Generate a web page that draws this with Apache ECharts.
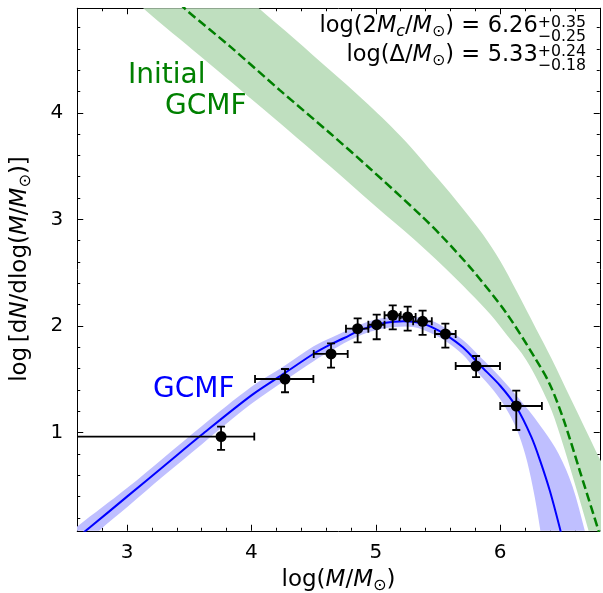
<!DOCTYPE html>
<html><head><meta charset="utf-8">
<script src="https://cdn.jsdelivr.net/npm/echarts@6/dist/echarts.min.js"></script>
<style>html,body{margin:0;padding:0;background:#fff}#c{width:603px;height:593px}</style>
</head><body><div id="c"></div>
<script>
// ---------------- data ----------------
const xMajorTicks = [3, 4, 5, 6];
const xMinorTicks = [2.8, 3.2, 3.4, 3.6, 3.8, 4.2, 4.4, 4.6, 4.8, 5.2, 5.4, 5.6, 5.8, 6.2, 6.4, 6.6];
const yMajorTicks = [1, 2, 3, 4];
const yMinorTicks = [0.2, 0.4, 0.6, 0.8, 1.2, 1.4, 1.6, 1.8, 2.2, 2.4, 2.6, 2.8, 3.2, 3.4, 3.6, 3.8, 4.2, 4.4, 4.6, 4.8];

// binned GCMF data points with error bars
const pointX   = [3.756, 4.270, 4.640, 4.854, 5.007, 5.136, 5.256, 5.376, 5.559, 5.806, 6.129];
const pointY   = [0.963, 1.503, 1.738, 1.975, 2.012, 2.101, 2.085, 2.044, 1.925, 1.625, 1.250];
const pointXLo = [2.000, 4.029, 4.501, 4.760, 4.940, 5.070, 5.190, 5.300, 5.475, 5.642, 6.000];
const pointXHi = [4.023, 4.498, 4.774, 4.940, 5.070, 5.200, 5.320, 5.450, 5.642, 5.998, 6.335];
const pointYLo = [0.838, 1.379, 1.609, 1.847, 1.876, 1.969, 1.956, 1.916, 1.797, 1.520, 1.025];
const pointYHi = [1.056, 1.597, 1.838, 2.072, 2.106, 2.194, 2.181, 2.144, 2.022, 1.719, 1.394];

// best-fit (evolved) GCMF
const gcmfX = [2.55, 2.7, 3.0, 3.3, 3.6, 4.0, 4.27, 4.5, 4.64, 4.75, 4.85, 4.93, 5.0, 5.08, 5.15, 5.22, 5.3, 5.38, 5.45, 5.56, 5.7, 5.84, 6.0, 6.13, 6.25, 6.32, 6.4, 6.48, 6.52];
const gcmfY = [-0.03, 0.11, 0.40, 0.69, 0.98, 1.35, 1.56, 1.74, 1.83, 1.89, 1.95, 1.985, 2.01, 2.03, 2.04, 2.045, 2.04, 2.02, 1.99, 1.92, 1.80, 1.63, 1.44, 1.24, 0.96, 0.74, 0.45, 0.10, -0.1];
const gcmfUpperX = [2.45, 2.6, 3.0, 3.3, 3.6, 4.0, 4.27, 4.5, 4.64, 4.85, 5.0, 5.15, 5.3, 5.45, 5.56, 5.7, 5.84, 6.0, 6.2, 6.35, 6.47, 6.58, 6.68, 6.73];
const gcmfUpperY = [-0.02, 0.12, 0.48, 0.77, 1.06, 1.43, 1.63, 1.81, 1.89, 2.00, 2.06, 2.09, 2.09, 2.05, 1.98, 1.87, 1.71, 1.52, 1.25, 1.02, 0.80, 0.50, 0.08, -0.15];
const gcmfLowerX = [2.65, 2.75, 3.0, 3.3, 3.6, 4.0, 4.27, 4.5, 4.64, 4.85, 5.0, 5.15, 5.3, 5.45, 5.56, 5.7, 5.8, 5.95, 6.05, 6.13, 6.2, 6.26, 6.32, 6.345];
const gcmfLowerY = [-0.1, 0.05, 0.30, 0.60, 0.89, 1.27, 1.49, 1.67, 1.77, 1.90, 1.96, 1.99, 1.99, 1.93, 1.86, 1.73, 1.59, 1.39, 1.22, 1.04, 0.80, 0.50, 0.10, -0.15];

// initial GCMF
const initX = [3.42, 3.49, 3.83, 4.23, 4.63, 4.95, 5.36, 5.54, 5.78, 6.05, 6.29, 6.4, 6.51, 6.64, 6.79, 6.82];
const initY = [5.03, 4.95, 4.62, 4.21, 3.81, 3.48, 3.04, 2.83, 2.52, 2.12, 1.68, 1.45, 1.12, 0.64, 0.08, -0.05];
const initUpperX = [3.9, 4.06, 4.35, 4.63, 4.9, 5.2, 5.5, 5.7, 5.86, 6.0, 6.13, 6.29, 6.41, 6.57, 6.78, 6.9, 6.97];
const initUpperY = [5.15, 4.98, 4.69, 4.40, 4.12, 3.78, 3.38, 3.10, 2.86, 2.61, 2.33, 1.97, 1.70, 1.31, 0.80, 0.50, -0.25];
const initLowerX = [2.98, 3.13, 3.6, 4.1, 4.63, 5.0, 5.3, 5.55, 5.75, 5.92, 6.05, 6.21, 6.387, 6.48, 6.6, 6.71, 6.76];
const initLowerY = [5.15, 4.98, 4.52, 4.03, 3.50, 3.12, 2.82, 2.55, 2.32, 2.11, 1.92, 1.68, 1.28, 0.98, 0.52, 0.08, -0.15];

const X_MIN = 2.6, X_MAX = 6.8, Y_MIN = 0.08, Y_MAX = 4.98;

// ---------------- helpers ----------------
const FONT = 'DejaVu Sans';
const zip = (a, b) => a.map((v, i) => [v, b[i]]);
const mctx = document.createElement('canvas').getContext('2d');
function fontStr(size, italic) { return (italic ? 'italic ' : '') + size + 'px "' + FONT + '"'; }
function measure(t, size, italic) { mctx.font = fontStr(size, italic); return mctx.measureText(t).width; }
// lays out a sequence of text pieces along a baseline
function mathText(pieces, o) {
  const size = o.size, K = 0.35;
  let cx = 0; const kids = [];
  const mk = (t, x, sz, it, dy) => ({type: 'text', x: x, y: dy * size - K * sz,
    style: {text: t, font: fontStr(sz, it), fill: o.color, align: 'left', verticalAlign: 'middle', textAlign: 'left', textVerticalAlign: 'middle'}});
  pieces.forEach(p => {
    if (p.sup !== undefined) {
      const sz = size * 0.7;
      kids.push(mk(p.sup, cx, sz, false, p.dyUp));
      kids.push(mk(p.sub, cx, sz, false, p.dyDn));
      cx += Math.max(measure(p.sup, sz, false), measure(p.sub, sz, false));
    } else {
      const sz = size * (p.s || 1);
      cx += (p.pre || 0) * size;
      kids.push(mk(p.t, cx, sz, !!p.i, p.dy || 0));
      cx += measure(p.t, sz, !!p.i) + (p.post || 0) * size;
    }
  });
  const shift = o.align === 'right' ? -cx : (o.align === 'center' ? -cx / 2 : 0);
  kids.forEach(k => k.x += shift);
  return {type: 'group', x: o.x, y: o.y, rotation: o.rotation || 0, silent: true, z: 100, children: kids};
}
function band(upX, upY, loX, loY, color) {
  return {type: 'custom', clip: true, silent: true, z: 1, data: [[X_MIN, Y_MIN]],
    renderItem: (params, api) => {
      const up = zip(upX, upY).map(p => api.coord(p));
      const lo = zip(loX, loY).map(p => api.coord(p)).reverse();
      return {type: 'group', children: [
        {type: 'polygon', shape: {points: up.concat(lo), smooth: 0.35}, style: {fill: color}}
      ]};
    }};
}
function xAx(pos, vals, len, labels, lineShow) {
  return {type: 'value', min: X_MIN, max: X_MAX, position: pos, gridIndex: 0,
    axisLine: {show: lineShow, onZero: false, lineStyle: {color: '#000', width: 1}},
    axisTick: {show: true, inside: true, length: len, customValues: vals, lineStyle: {color: '#000', width: 1}},
    axisLabel: {show: labels, customValues: vals, fontFamily: FONT, fontSize: 20, color: '#000', margin: 12},
    splitLine: {show: false}, minorTick: {show: false}, axisPointer: {show: false}};
}
function yAx(pos, vals, len, labels, lineShow) {
  return {type: 'value', min: Y_MIN, max: Y_MAX, position: pos, gridIndex: 0,
    axisLine: {show: lineShow, onZero: false, lineStyle: {color: '#000', width: 1}},
    axisTick: {show: true, inside: true, length: len, customValues: vals, lineStyle: {color: '#000', width: 1}},
    axisLabel: {show: labels, customValues: vals, fontFamily: FONT, fontSize: 20, color: '#000', margin: 14},
    splitLine: {show: false}, minorTick: {show: false}, axisPointer: {show: false}};
}

const errData = pointX.map((x, i) => [x, pointY[i], pointXLo[i], pointXHi[i], pointYLo[i], pointYHi[i]]);

const chart = echarts.init(document.getElementById('c'), null, {renderer: 'canvas'});
const option = {
  animation: false,
  backgroundColor: '#fff',
  grid: {left: 77.25, top: 8.25, width: 522.5, height: 522.5, containLabel: false, outerBoundsMode: 'none'},
  xAxis: [
    xAx('bottom', xMajorTicks, 6, true, true),
    xAx('bottom', xMinorTicks, 3, false, false),
    xAx('top', xMajorTicks, 6, false, true),
    xAx('top', xMinorTicks, 3, false, false)
  ],
  yAxis: [
    yAx('left', yMajorTicks, 6, true, true),
    yAx('left', yMinorTicks, 3, false, false),
    yAx('right', yMajorTicks, 6, false, true),
    yAx('right', yMinorTicks, 3, false, false)
  ],
  series: [
    band(initUpperX, initUpperY, initLowerX, initLowerY, '#bfdfbf'),
    band(gcmfUpperX, gcmfUpperY, gcmfLowerX, gcmfLowerY, '#bfbfff'),
    {type: 'line', data: zip(initX, initY), smooth: 0.3, showSymbol: false, silent: true, z: 2, clip: true,
      lineStyle: {color: '#008000', width: 2.5, type: [9, 4]}},
    {type: 'line', data: zip(gcmfX, gcmfY), smooth: 0.3, showSymbol: false, silent: true, z: 2, clip: true,
      lineStyle: {color: '#0000ff', width: 2}},
    {type: 'custom', clip: true, silent: true, z: 3, data: errData,
      renderItem: (params, api) => {
        const c = api.coord([api.value(0), api.value(1)]);
        const xl = api.coord([api.value(2), api.value(1)]);
        const xh = api.coord([api.value(3), api.value(1)]);
        const yl = api.coord([api.value(0), api.value(4)]);
        const yh = api.coord([api.value(0), api.value(5)]);
        const cap = 4, st = {stroke: '#000', lineWidth: 1.8};
        return {type: 'group', children: [
          {type: 'line', shape: {x1: xl[0], y1: c[1], x2: xh[0], y2: c[1]}, style: st},
          {type: 'line', shape: {x1: c[0], y1: yl[1], x2: c[0], y2: yh[1]}, style: st},
          {type: 'line', shape: {x1: xl[0], y1: c[1] - cap, x2: xl[0], y2: c[1] + cap}, style: st},
          {type: 'line', shape: {x1: xh[0], y1: c[1] - cap, x2: xh[0], y2: c[1] + cap}, style: st},
          {type: 'line', shape: {x1: c[0] - cap, y1: yl[1], x2: c[0] + cap, y2: yl[1]}, style: st},
          {type: 'line', shape: {x1: c[0] - cap, y1: yh[1], x2: c[0] + cap, y2: yh[1]}, style: st}
        ]};
      }},
    {type: 'scatter', data: zip(pointX, pointY), symbol: 'circle', symbolSize: 11, silent: true, z: 4,
      itemStyle: {color: '#000', opacity: 1}}
  ],
  graphic: {elements: [
    mathText([{t: 'log('}, {t: 'M', i: true}, {t: '/'}, {t: 'M', i: true}, {t: '⊙', s: 0.7, dy: 0.15}, {t: ')'}],
      {x: 338.5, y: 588, size: 23, align: 'center', color: '#000'}),
    mathText([{t: 'log\u2009[d'}, {t: 'N', i: true}, {t: '/dlog('}, {t: 'M', i: true}, {t: '/'}, {t: 'M', i: true}, {t: '⊙', s: 0.7, dy: 0.15}, {t: ')]'}],
      {x: 28, y: 269, size: 23, align: 'center', color: '#000', rotation: Math.PI / 2}),
    mathText([{t: 'log(2'}, {t: 'M', i: true}, {t: 'c', i: true, s: 0.7, dy: 0.15}, {t: '/'}, {t: 'M', i: true}, {t: '⊙', s: 0.7, dy: 0.15}, {t: ')', post: 0.33}, {t: '=', post: 0.33}, {t: '6.26'},
      {sup: '+0.35', sub: '−0.25', dyUp: -0.25, dyDn: 0.34}],
      {x: 586, y: 34.3, size: 22.5, align: 'right', color: '#000'}),
    mathText([{t: 'log(Δ/'}, {t: 'M', i: true}, {t: '⊙', s: 0.7, dy: 0.15}, {t: ')', post: 0.33}, {t: '=', post: 0.33}, {t: '5.33'},
      {sup: '+0.24', sub: '−0.18', dyUp: -0.25, dyDn: 0.34}],
      {x: 586, y: 63.3, size: 22.5, align: 'right', color: '#000'}),
    mathText([{t: 'Initial'}], {x: 128, y: 86, size: 28, align: 'left', color: '#008000'}),
    mathText([{t: 'GCMF'}], {x: 165, y: 117, size: 28, align: 'left', color: '#008000'}),
    mathText([{t: 'GCMF'}], {x: 153, y: 400, size: 28, align: 'left', color: '#0000ff'})
  ]}
};
chart.setOption(option);
</script>
</body></html>
